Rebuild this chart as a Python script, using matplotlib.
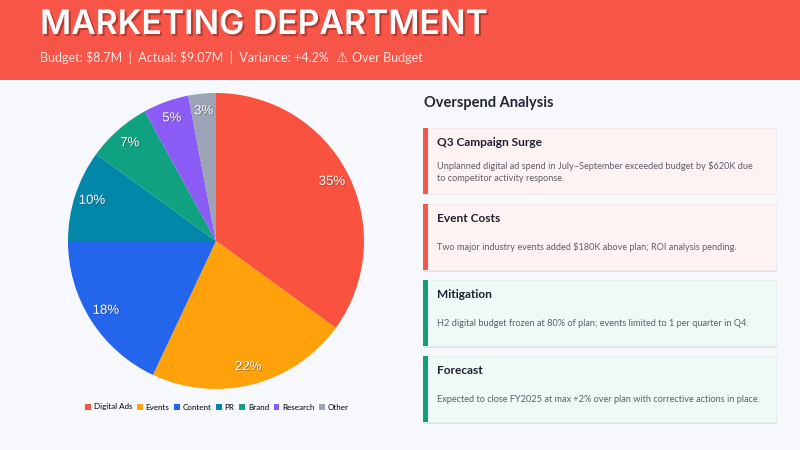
import matplotlib
matplotlib.use("Agg")
import matplotlib.pyplot as plt
import matplotlib.patheffects as pe
from matplotlib.patches import Rectangle

# pie data
categories = ["Digital Ads", "Events", "Content", "PR", "Brand", "Research", "Other"]
shares = [35, 22, 18, 10, 7, 5, 3]
slice_colors = ["#F9533F", "#FFA10A", "#2366EB", "#0387A8", "#10A280", "#8B5CF6", "#9CA3B5"]

title = "MARKETING DEPARTMENT"
subtitle = r"Budget: \$8.7M  |  Actual: \$9.07M  |  Variance: +4.2%  "
warn_note = "Over Budget"

# right panel cards
card_titles = ["Q3 Campaign Surge", "Event Costs", "Mitigation", "Forecast"]
card_texts = [
    "Unplanned digital ad spend in July\u2013September exceeded budget by \\$620K due\nto competitor activity response.",
    "Two major industry events added \\$180K above plan; ROI analysis pending.",
    "H2 digital budget frozen at 80% of plan; events limited to 1 per quarter in Q4.",
    "Expected to close FY2025 at max +2% over plan with corrective actions in place.",
]
card_kind = ["warn", "warn", "good", "good"]

W, H = 800, 450
fig = plt.figure(figsize=(8, 4.5), dpi=100)
fig.patch.set_facecolor("#F7F8FC")

def px(x, y):  # pixel coords (top-left origin) -> figure fraction
    return x / W, 1 - y / H

# header band
fig.patches.append(Rectangle((0, 1 - 80 / H), 1, 80 / H, transform=fig.transFigure,
                             facecolor="#F75548", edgecolor="none", zorder=0))
fig.text(*px(40, 25), title, color="white", fontsize=24.3, fontweight="semibold",
         family=["Inter", "DejaVu Sans"], va="center", ha="left",
         path_effects=[pe.withSimplePatchShadow(offset=(1.5, -1.5), shadow_rgbFace="#8a2a22", alpha=0.6)])
sub = fig.text(*px(40, 58), subtitle, color="#FFE6E2", fontsize=9,
               family=["Lato", "DejaVu Sans"], va="center", ha="left")
fig.canvas.draw()
bb = sub.get_window_extent()
fig.text(bb.x1 / W, 1 - 57.5 / H, "\u26a0", color="#FFE6E2", fontsize=10,
         family="DejaVu Sans", va="center", ha="left")
fig.text(bb.x1 / W + 17 / W, 1 - 58 / H, warn_note, color="#FFE6E2", fontsize=9,
         family=["Lato", "DejaVu Sans"], va="center", ha="left")

# pie
ax = fig.add_axes([68 / W, 1 - 389 / H, 296 / W, 296 / H])
wedges, _, autotexts = ax.pie(shares, colors=slice_colors, startangle=90, counterclock=False,
                              autopct="%d%%", pctdistance=0.88, radius=1,
                              wedgeprops=dict(linewidth=0))
for t in autotexts:
    t.set_color("white")
    t.set_fontsize(9.5)
    t.set_family(["Liberation Sans", "DejaVu Sans"])
    t.set_path_effects([pe.withSimplePatchShadow(offset=(0.6, -0.6), shadow_rgbFace="#333333", alpha=0.5)])
ax.set_xlim(-1, 1)
ax.set_ylim(-1, 1)
ax.set_aspect("equal")

fig.legend(wedges, categories, loc="center", bbox_to_anchor=px(217, 407), ncol=7,
           frameon=False, handlelength=0.7, handleheight=0.7,
           handletextpad=0.35, columnspacing=0.6,
           prop={"family": ["Lato", "DejaVu Sans"], "size": 5.8})

# right panel
fig.text(*px(424, 103), "Overspend Analysis", fontsize=10.5, fontweight="bold",
         color="#222533", family=["Lato", "DejaVu Sans"], va="center")

card_x, card_w, card_h = 423, 353, 66
tops = [128, 204, 280, 356]
for top, ttl, txt, kind in zip(tops, card_titles, card_texts, card_kind):
    bg = "#FFF2F2" if kind == "warn" else "#EFF9F5"
    accent = "#F4574A" if kind == "warn" else "#0FA07C"
    # shadow
    fig.patches.append(Rectangle(px(card_x + 1, top + card_h + 1.5), card_w / W, card_h / H,
                                 transform=fig.transFigure, facecolor="#DDE0E8",
                                 edgecolor="none", zorder=1))
    fig.patches.append(Rectangle(px(card_x, top + card_h), card_w / W, card_h / H,
                                 transform=fig.transFigure, facecolor=bg,
                                 edgecolor="#F0E8EC" if kind == "warn" else "#E3F0EA",
                                 linewidth=0.6, zorder=2))
    fig.patches.append(Rectangle(px(card_x, top + card_h), 5 / W, card_h / H,
                                 transform=fig.transFigure, facecolor=accent,
                                 edgecolor="none", zorder=3))
    fig.text(*px(437, top + 15), ttl, fontsize=8.6, fontweight="bold", color="#1E2030",
             family=["Lato", "DejaVu Sans"], va="center", zorder=4)
    ty = top + 44 if "\n" in txt else top + 43
    fig.text(*px(437, ty), txt, fontsize=6.6, color="#5B5E6A", linespacing=1.5,
             family=["Lato", "DejaVu Sans"], va="center", zorder=4)

fig.savefig("out.png", dpi=100, facecolor=fig.get_facecolor())
